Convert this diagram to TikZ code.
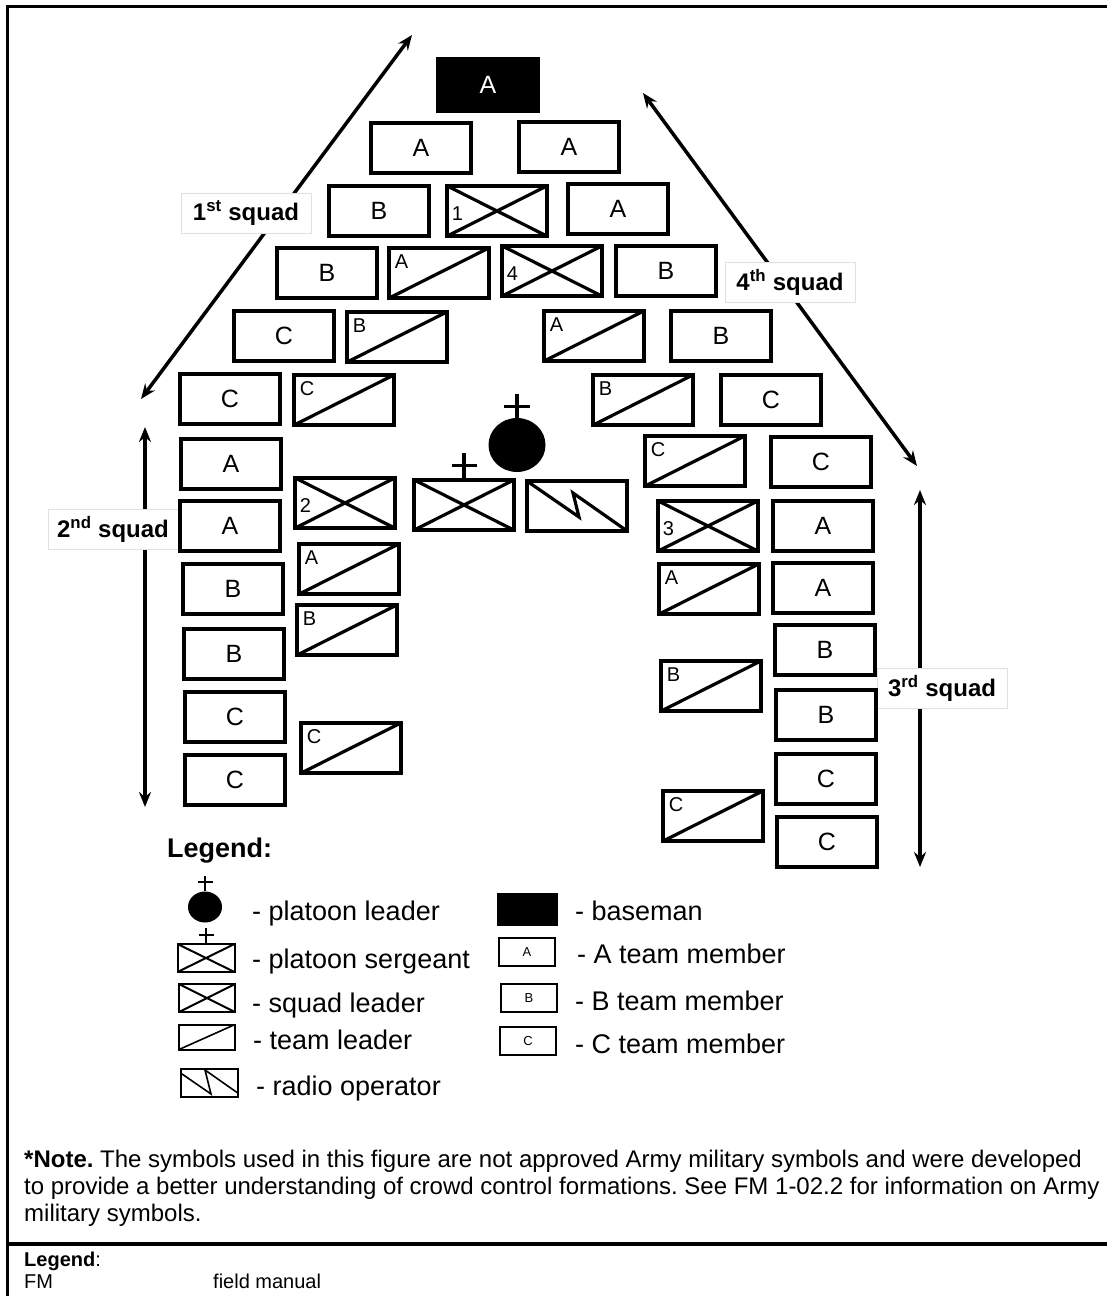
\documentclass[tikz,border=0pt]{standalone}
\usepackage{fontspec}
\setmainfont{Liberation Sans}
\usetikzlibrary{arrows.meta,positioning,shapes.geometric}
\newcommand{\MbrFont}{\fontsize{25}{25}\selectfont}
\newcommand{\TagFont}{\fontsize{20}{20}\selectfont}
\newcommand{\SqFont}{\bfseries\fontsize{24}{24}\selectfont}
\newcommand{\KeyFont}{\fontsize{13}{13}\selectfont}
\newcommand{\KeyTextFont}{\fontsize{27}{27}\selectfont}
\newcommand{\NoteFont}{\fontsize{24}{27}\selectfont}
\newcommand{\AbbrFont}{\fontsize{20}{20}\selectfont}
\frenchspacing

\begin{document}
\begin{tikzpicture}[x=1pt, y=-1pt,
    member/.style={draw, line width=4pt, inner sep=0pt, minimum width=100.5pt,
                   minimum height=50.5pt, font=\MbrFont},
    keybox/.style={draw, line width=2pt, inner sep=0pt, minimum width=56pt,
                   minimum height=28pt, font=\KeyFont},
    xcross/.style={path picture={\draw[line width=#1]
        (path picture bounding box.north west) -- (path picture bounding box.south east)
        (path picture bounding box.south west) -- (path picture bounding box.north east);}},
    slash/.style={path picture={\draw[line width=#1]
        (path picture bounding box.south west) -- (path picture bounding box.north east);}},
    bolt/.style 2 args={path picture={\draw[line width=#2,
        shift={(path picture bounding box.center)}, scale=#1]
        (-53,-27) -- (2,11) -- (-4,-13) -- (53,27);}},
    tag/.style={anchor=north west, inner sep=0pt, xshift=8pt, yshift=-9pt, font=\TagFont},
    num/.style={anchor=west, inner sep=0pt, xshift=7pt, yshift=-3pt, font=\TagFont},
    teamldr/.style={member, slash=3.2pt, label={[tag]north west:#1}},
    squadldr/.style={member, xcross=3.2pt, label={[num]west:#1}},
    baseman/.style={member, fill=black, text=white, minimum height=52pt},
    squadtag/.style={fill=white, draw=black!12, line width=0.8pt, inner sep=0pt,
                     minimum width=130pt, minimum height=40pt, font=\SqFont},
    reach/.style={line width=3.5pt,
        {Stealth[length=15pt,width=12pt]}-{Stealth[length=15pt,width=12pt]}},
    crossmark/.style={line width=#1},
    keytext/.style={anchor=base west, inner sep=0pt, font=\KeyTextFont},
  ]
  \useasboundingbox (0,0) rectangle (1107,1296);

  % frame and separator
  \draw[line width=3pt] (7,1296) -- (7,6) -- (1107,6);
  \draw[line width=3.5pt] (7,1244) -- (1107,1244);

  % squad extents
  \coordinate (s1lo) at (141,399);
  \coordinate (s1hi) at (412,35);
  \coordinate (s4hi) at (643,93);
  \coordinate (s4lo) at (917,466);
  \coordinate (s2hi) at (145,427);
  \coordinate (s2lo) at (145,807);
  \coordinate (s3hi) at (920,490);
  \coordinate (s3lo) at (920,867);
  \draw[reach] (s1lo) -- (s1hi);
  \draw[reach] (s4hi) -- (s4lo);
  \draw[reach] (s2hi) -- (s2lo);
  \draw[reach] (s3hi) -- (s3lo);
  \node[squadtag] (q1) at (246,213) {1\textsuperscript{st} squad};
  \node[squadtag] (q4) at (790,282) {4\textsuperscript{th} squad};
  \node[squadtag] (q2) at (113,529) {2\textsuperscript{nd} squad};
  \node[squadtag] (q3) at (942,688) {3\textsuperscript{rd} squad};

  % point of the wedge
  \node[baseman] (bm) at (488,85) {A};

  % 1st squad
  \node[member] (s1a1) at (421,148) {A};
  \node[member] (s1b1) at (379,211) {B};
  \node[squadldr=1] (s1sl) at (497,211) {};
  \node[member] (s1b2) at (327,273) {B};
  \node[teamldr=A] (s1tla) at (439,273) {};
  \node[member] (s1c1) at (284,336) {C};
  \node[teamldr=B] (s1tlb) at (397,337) {};
  \node[member] (s1c2) at (230,399) {C};
  \node[teamldr=C] (s1tlc) at (344,400) {};

  % 4th squad
  \node[member] (s4a1) at (569,147) {A};
  \node[member] (s4a2) at (618,209) {A};
  \node[squadldr=4] (s4sl) at (552,271) {};
  \node[member] (s4b1) at (666,271) {B};
  \node[teamldr=A] (s4tla) at (594,336) {};
  \node[member] (s4b2) at (721,336) {B};
  \node[teamldr=B] (s4tlb) at (643,400) {};
  \node[member] (s4c1) at (771,400) {C};
  \node[teamldr=C] (s4tlc) at (695,461) {};
  \node[member] (s4c2) at (821,462) {C};

  % 2nd squad
  \node[member] (s2a1) at (231,464) {A};
  \node[member] (s2a2) at (230,526) {A};
  \node[member] (s2b1) at (233,589) {B};
  \node[member] (s2b2) at (234,654) {B};
  \node[member] (s2c1) at (235,717) {C};
  \node[member] (s2c2) at (235,780) {C};
  \node[squadldr=2] (s2sl) at (345,503) {};
  \node[teamldr=A] (s2tla) at (349,569) {};
  \node[teamldr=B] (s2tlb) at (347,630) {};
  \node[teamldr=C] (s2tlc) at (351,748) {};

  % 3rd squad
  \node[squadldr=3] (s3sl) at (708,526) {};
  \node[teamldr=A] (s3tla) at (709,589) {};
  \node[teamldr=B] (s3tlb) at (711,686) {};
  \node[teamldr=C] (s3tlc) at (713,816) {};
  \node[member] (s3a1) at (823,526) {A};
  \node[member] (s3a2) at (823,588) {A};
  \node[member] (s3b1) at (825,650) {B};
  \node[member] (s3b2) at (826,715) {B};
  \node[member] (s3c1) at (826,779) {C};
  \node[member] (s3c2) at (827,842) {C};

  % platoon HQ
  \node[ellipse, fill=black, inner sep=0pt, minimum width=57pt, minimum height=54pt] (pl) at (517,445) {};
  \draw[crossmark=3.2pt] (pl.north) -- ++(0,-24) ++(-13,13) -- ++(26,0);
  \node[member, xcross=3.2pt] (psg) at (464,505) {};
  \draw[crossmark=3.2pt] (psg.north) -- ++(0,-25) ++(-12,13) -- ++(25,0);
  \node[member, bolt={1}{3.2pt}] (rto) at (577,506) {};

  % legend
  \node[anchor=base west, inner sep=0pt, font=\bfseries\KeyTextFont] (lgd) at (167,857) {Legend:};
  \node[ellipse, fill=black, inner sep=0pt, minimum width=34pt, minimum height=31pt] (kpl) at (205,907) {};
  \draw[crossmark=2pt] (kpl.north) -- ++(0,-15) ++(-7.5,6) -- ++(15,0);
  \node[keybox, xcross=2pt, minimum width=57pt] (kps) at (206,958) {};
  \draw[crossmark=2pt] (kps.north) -- ++(0,-15) ++(-7.5,7) -- ++(15,0);
  \node[keybox, xcross=2pt] (ksl) at (207,998) {};
  \node[keybox, slash=1.6pt, minimum height=25pt] (ktl) at (207,1037) {};
  \node[keybox, bolt={0.55}{1.6pt}, minimum width=57pt] (kro) at (209,1083) {};
  \node[keybox, fill=black, minimum width=59pt, minimum height=31pt] (kbm) at (527,909) {};
  \node[keybox] (ka) at (527,952) {A};
  \node[keybox] (kb) at (529,998) {B};
  \node[keybox] (kc) at (528,1041) {C};

  \node[keytext] (tpl) at (252,920) {- platoon leader};
  \node[keytext] (tps) at (252,968) {- platoon sergeant};
  \node[keytext] (tsl) at (252,1012) {- squad leader};
  \node[keytext] (ttl) at (253,1049) {- team leader};
  \node[keytext] (tro) at (256,1095) {- radio operator};
  \node[keytext] (tbm) at (575,920) {- baseman};
  \node[keytext] (ta) at (577,963) {- A team member};
  \node[keytext] (tb) at (575,1010) {- B team member};
  \node[keytext] (tc) at (575,1053) {- C team member};

  % note
  \node[anchor=north west, align=left, inner sep=0pt, font=\NoteFont] (note) at (24,1150)
    {\textbf{*Note.} The symbols used in this figure are not approved Army military symbols and were developed\\
     to provide a better understanding of crowd control formations. See FM 1-02.2 for information on Army\\
     military symbols.};

  % abbreviations
  \node[anchor=base west, inner sep=0pt, font=\AbbrFont] (abbr) at (24,1266) {\textbf{Legend}:};
  \node[anchor=base west, inner sep=0pt, font=\AbbrFont] (fm) at (24,1288) {FM};
  \node[anchor=base west, inner sep=0pt, font=\AbbrFont] (fmtxt) at (213,1288) {field manual};
\end{tikzpicture}
\end{document}
